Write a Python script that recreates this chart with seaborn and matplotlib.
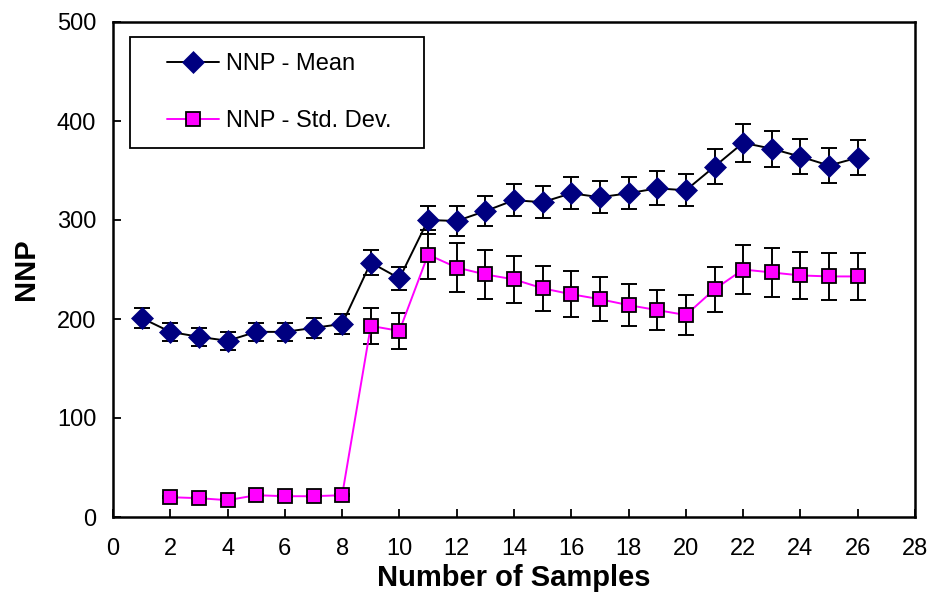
import matplotlib
matplotlib.use("Agg")
import matplotlib.pyplot as plt
from matplotlib.patches import Rectangle
import seaborn as sns
import pandas as pd

# ---- data ----
samples_mean = list(range(1, 27))
nnp_mean = [201, 187, 182, 178, 187, 187, 191, 195, 257, 241, 300, 299, 309, 320,
            318, 327, 323, 327, 332, 330, 354, 378, 372, 364, 355, 363]
nnp_mean_err = [10, 9, 9, 9, 9, 9, 10, 10, 13, 12, 14, 15, 15, 16,
                16, 16, 16, 16, 17, 16, 18, 19, 18, 18, 18, 18]

samples_std = list(range(2, 27))
nnp_std = [20, 19, 17, 22, 21, 21, 22, 193, 188, 265, 252, 245, 240, 231,
           225, 220, 214, 209, 204, 230, 250, 247, 244, 243, 243]
nnp_std_err = [1, 1, 1, 1, 1, 1, 1, 18, 18, 25, 25, 25, 24, 23,
               23, 22, 21, 20, 20, 23, 25, 25, 24, 24, 24]

label_mean = "NNP - Mean"
label_std = "NNP - Std. Dev."
x_label = "Number of Samples"
y_label = "NNP"
x_ticks = list(range(0, 29, 2))
y_ticks = [0, 100, 200, 300, 400, 500]

df_mean = pd.DataFrame({"x": samples_mean, "y": nnp_mean, "e": nnp_mean_err})
df_std = pd.DataFrame({"x": samples_std, "y": nnp_std, "e": nnp_std_err})

sns.set_theme(style="white")
plt.rcParams["font.family"] = ["Liberation Sans", "DejaVu Sans"]
plt.rcParams["text.color"] = "black"
plt.rcParams["axes.labelcolor"] = "black"

fig = plt.figure(figsize=(9.33, 5.99), dpi=100)
ax = fig.add_axes([113 / 933, 1 - 517 / 599, (915 - 113) / 933, (517 - 22) / 599])

# error bars
ax.errorbar(df_mean["x"], df_mean["y"], yerr=df_mean["e"], fmt="none",
            ecolor="black", elinewidth=1.4, capsize=6, capthick=1.4, zorder=2)
ax.errorbar(df_std["x"], df_std["y"], yerr=df_std["e"], fmt="none",
            ecolor="black", elinewidth=1.4, capsize=6, capthick=1.4, zorder=2)

sns.lineplot(data=df_mean, x="x", y="y", ax=ax, color="black", lw=1.4,
             marker="D", markersize=11, markerfacecolor="#000080",
             markeredgecolor="#000080", markeredgewidth=0.5,
             label=label_mean, zorder=3)
sns.lineplot(data=df_std, x="x", y="y", ax=ax, color="#ff00ff", lw=1.4,
             marker="s", markersize=9.5, markerfacecolor="#ff00ff",
             markeredgecolor="black", markeredgewidth=1.3,
             label=label_std, zorder=3)

ax.set_xlim(0, 28)
ax.set_ylim(0, 500)
ax.set_xticks(x_ticks)
ax.set_yticks(y_ticks)
ax.tick_params(axis="both", direction="in", length=6, width=1.3,
               labelsize=17, colors="black", left=True, bottom=True)
ax.tick_params(axis="y", pad=12)
ax.tick_params(axis="x", pad=15)
for s in ax.spines.values():
    s.set_visible(True)
    s.set_color("black")
    s.set_linewidth(1.8)
ax.grid(False)

ax.set_xlabel(x_label, fontsize=21, fontweight="bold", labelpad=3)
ax.set_ylabel(y_label, fontsize=21, fontweight="bold", labelpad=12)

# legend (frame drawn separately to match the wide box)
leg = ax.legend(loc="upper left", bbox_to_anchor=(167 / 933, 1 - 53 / 599),
                bbox_transform=fig.transFigure, frameon=False, fontsize=17,
                handlelength=2.2, handletextpad=0.3, labelspacing=1.5,
                borderpad=0, borderaxespad=0)
for t in leg.get_texts():
    t.set_color("black")
fig.patches.append(Rectangle((130 / 933, 1 - 148 / 599), 294 / 933, 111 / 599,
                             transform=fig.transFigure, fill=False,
                             edgecolor="black", linewidth=1.3, zorder=5))

fig.savefig("out.png", dpi=100, facecolor="white")
